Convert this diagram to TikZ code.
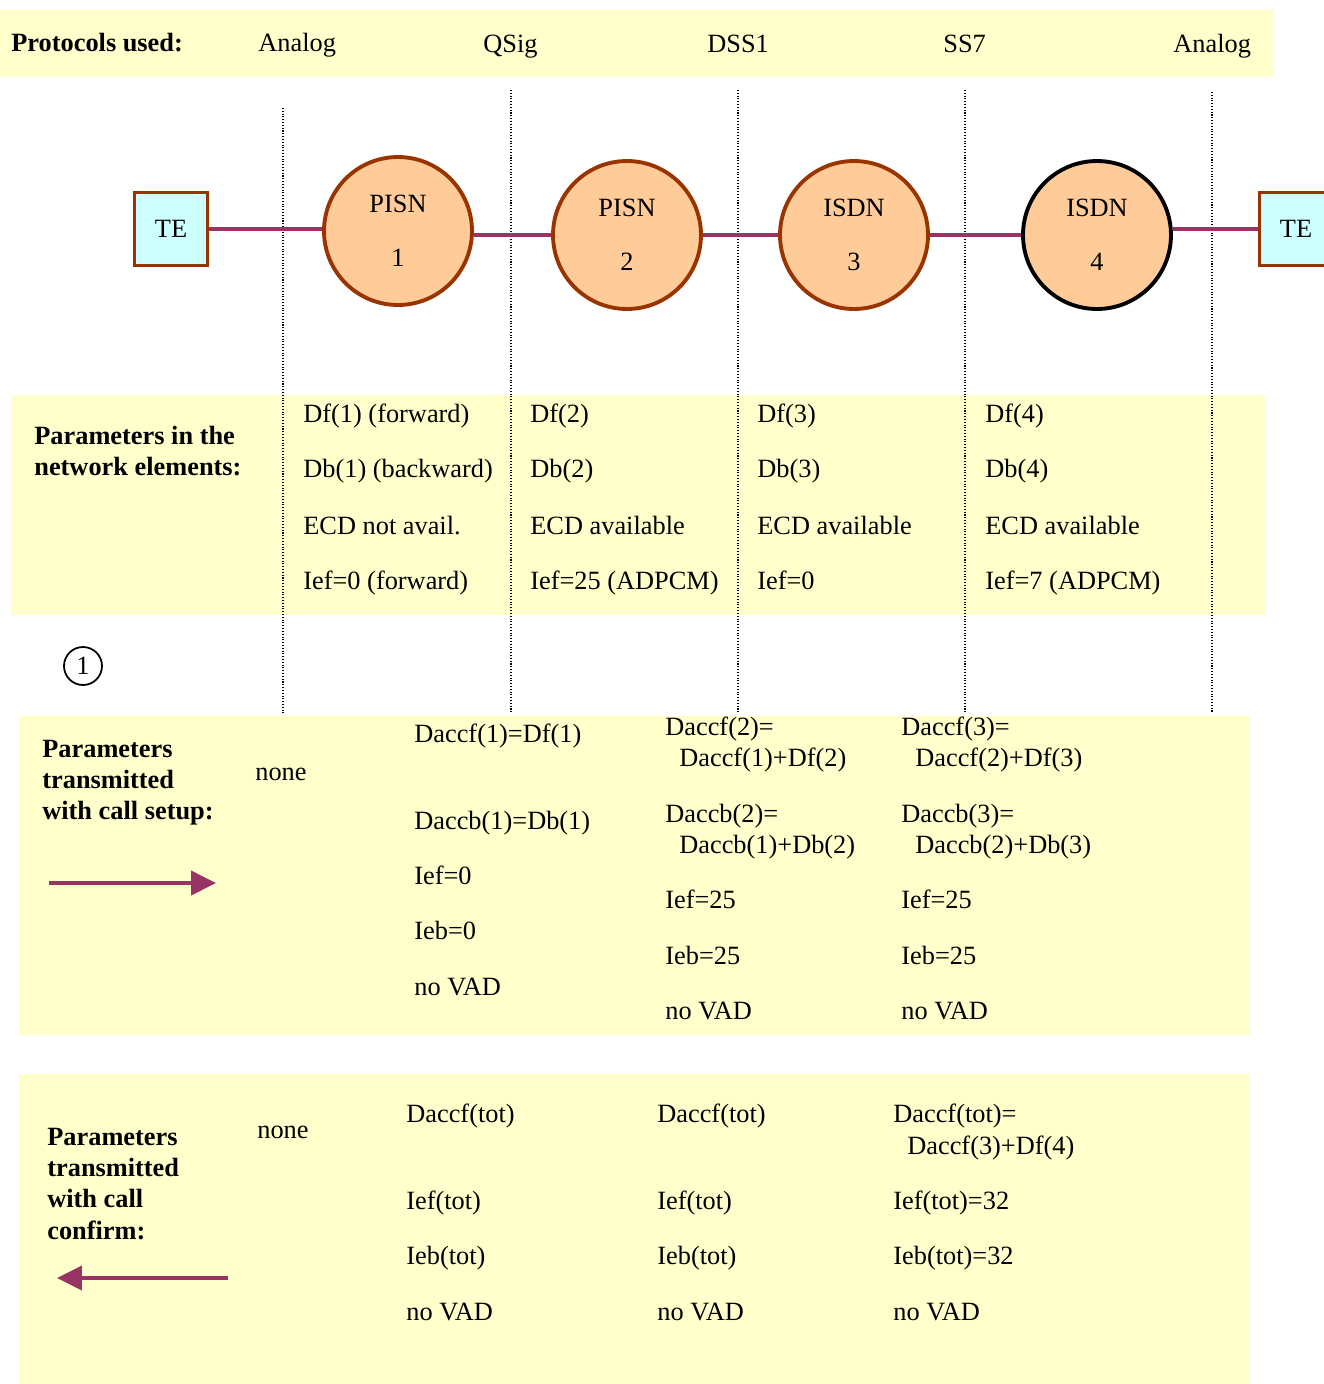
\documentclass[tikz,border=0pt]{standalone}
\usepackage{fontspec}
\setmainfont{Liberation Serif}
\usetikzlibrary{arrows.meta}
\definecolor{bandyellow}{HTML}{FFFFCC}
\definecolor{tecyan}{HTML}{CCFFFF}
\definecolor{netbrown}{HTML}{993300}
\definecolor{netpeach}{HTML}{FFCC99}
\definecolor{linkpurple}{HTML}{993366}
\tikzset{
  band/.style={fill=bandyellow,draw=none},
  txt/.style={anchor=base west,inner sep=0pt,font=\fontsize{15}{18}\selectfont},
  btxt/.style={txt,font=\fontsize{15}{18}\selectfont\bfseries},
  tebox/.style={draw=netbrown,fill=tecyan,line width=2.2pt,minimum size=1.46cm,inner sep=0pt,font=\fontsize{15}{18}\selectfont},
  netnode/.style={circle,draw=netbrown,fill=netpeach,line width=2.2pt,minimum size=2.96cm,inner sep=0pt,align=center,font=\fontsize{15}{18}\selectfont},
  link/.style={draw=linkpurple,line width=2.2pt},
  divider/.style={densely dotted,line width=0.6pt},
  flow/.style={draw=linkpurple,line width=2.2pt,-{Triangle[length=0.5cm,width=0.48cm]}}
}
\begin{document}
\begin{tikzpicture}[x=0.02cm,y=-0.02cm]
\useasboundingbox (0,0) rectangle (1324,1384);
% yellow bands
\fill[band] (0,10) rectangle (1273,77);
\fill[band] (11,395) rectangle (1265,615);
\fill[band] (19,716) rectangle (1250,1035);
\fill[band] (19,1074) rectangle (1250,1384);
%
\node[btxt] (proto) at (11,51) {Protocols used:};
\node[txt] (pr1) at (258,51) {Analog};
\node[txt] (pr2) at (483,52) {QSig};
\node[txt] (pr3) at (707,52) {DSS1};
\node[txt] (pr4) at (943,52) {SS7};
\node[txt] (pr5) at (1173,52) {Analog};
%
\draw[divider] (283,108) -- (283,713);
\draw[divider] (511,90) -- (511,713);
\draw[divider] (738,90) -- (738,713);
\draw[divider] (965,90) -- (965,713);
\draw[divider] (1212,92) -- (1212,713);
%
\node[tebox] (te1) at (171,229) {TE};
\node[tebox] (te2) at (1296,229) {TE};
\node[netnode] (pisn1) at (398,231) {PISN\\[13pt]1};
\node[netnode] (pisn2) at (627,235) {PISN\\[13pt]2};
\node[netnode] (isdn3) at (854,235) {ISDN\\[13pt]3};
\node[netnode,draw=black] (isdn4) at (1097,235) {ISDN\\[13pt]4};
\draw[link] (te1) -- (te1 -| pisn1.west);
\draw[link] (pisn1.east |- pisn2) -- (pisn2.west);
\draw[link] (pisn2) -- (isdn3);
\draw[link] (isdn3) -- (isdn4);
\draw[link] (te2) -- (te2 -| isdn4.east);
%
\node[btxt] (par1) at (34,444) {Parameters in the};
\node[btxt] (par2) at (34,475) {network elements:};
\node[txt] (df1) at (303,422) {Df(1) (forward)};
\node[txt] (db1) at (303,477) {Db(1) (backward)};
\node[txt] (ecd1) at (303,534) {ECD not avail.};
\node[txt] (ief1) at (303,589) {Ief=0 (forward)};
\node[txt] (df2) at (530,422) {Df(2)};
\node[txt] (db2) at (530,477) {Db(2)};
\node[txt] (ecd2) at (530,534) {ECD available};
\node[txt] (ief2) at (530,589) {Ief=25 (ADPCM)};
\node[txt] (df3) at (757,422) {Df(3)};
\node[txt] (db3) at (757,477) {Db(3)};
\node[txt] (ecd3) at (757,534) {ECD available};
\node[txt] (ief3) at (757,589) {Ief=0};
\node[txt] (df4) at (985,422) {Df(4)};
\node[txt] (db4) at (985,477) {Db(4)};
\node[txt] (ecd4) at (985,534) {ECD available};
\node[txt] (ief4) at (985,589) {Ief=7 (ADPCM)};
%
\node[circle,draw,line width=1pt,minimum size=0.76cm,inner sep=0pt,font=\fontsize{15}{18}\selectfont] (step1) at (83,666) {1};
%
\node[btxt] (su1) at (42,757) {Parameters};
\node[btxt] (su2) at (42,788) {transmitted};
\node[btxt] (su3) at (42,819) {with call setup:};
\node[txt] (sunone) at (255,780) {none};
\coordinate (suA) at (49,883);
\coordinate (suB) at (216,883);
\draw[flow] (suA) -- (suB);
\node[txt] (sa1) at (414,742) {Daccf(1)=Df(1)};
\node[txt] (sa2) at (414,829) {Daccb(1)=Db(1)};
\node[txt] (sa3) at (414,884) {Ief=0};
\node[txt] (sa4) at (414,939) {Ieb=0};
\node[txt] (sa5) at (414,995) {no VAD};
\node[txt] (sb1) at (665,735) {Daccf(2)=};
\node[txt] (sb2) at (679,766) {Daccf(1)+Df(2)};
\node[txt] (sb3) at (665,822) {Daccb(2)=};
\node[txt] (sb4) at (679,853) {Daccb(1)+Db(2)};
\node[txt] (sb5) at (665,908) {Ief=25};
\node[txt] (sb6) at (665,964) {Ieb=25};
\node[txt] (sb7) at (665,1019) {no VAD};
\node[txt] (sc1) at (901,735) {Daccf(3)=};
\node[txt] (sc2) at (915,766) {Daccf(2)+Df(3)};
\node[txt] (sc3) at (901,822) {Daccb(3)=};
\node[txt] (sc4) at (915,853) {Daccb(2)+Db(3)};
\node[txt] (sc5) at (901,908) {Ief=25};
\node[txt] (sc6) at (901,964) {Ieb=25};
\node[txt] (sc7) at (901,1019) {no VAD};
%
\node[btxt] (co1) at (47,1145) {Parameters};
\node[btxt] (co2) at (47,1176) {transmitted};
\node[btxt] (co3) at (47,1207) {with call};
\node[btxt] (co4) at (47,1239) {confirm:};
\node[txt] (conone) at (257,1138) {none};
\coordinate (coA) at (228,1278);
\coordinate (coB) at (57,1278);
\draw[flow] (coA) -- (coB);
\node[txt] (ca1) at (406,1122) {Daccf(tot)};
\node[txt] (ca2) at (406,1209) {Ief(tot)};
\node[txt] (ca3) at (406,1264) {Ieb(tot)};
\node[txt] (ca4) at (406,1320) {no VAD};
\node[txt] (cb1) at (657,1122) {Daccf(tot)};
\node[txt] (cb2) at (657,1209) {Ief(tot)};
\node[txt] (cb3) at (657,1264) {Ieb(tot)};
\node[txt] (cb4) at (657,1320) {no VAD};
\node[txt] (cc1) at (893,1122) {Daccf(tot)=};
\node[txt] (cc2) at (907,1154) {Daccf(3)+Df(4)};
\node[txt] (cc3) at (893,1209) {Ief(tot)=32};
\node[txt] (cc4) at (893,1264) {Ieb(tot)=32};
\node[txt] (cc5) at (893,1320) {no VAD};
\end{tikzpicture}
\end{document}
